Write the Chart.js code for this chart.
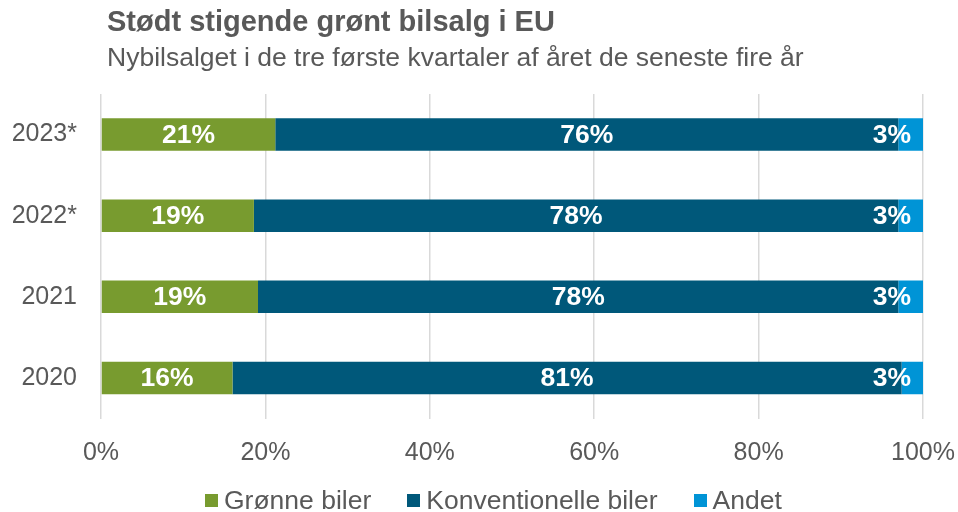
<!DOCTYPE html>
<html lang="da">
<head>
<meta charset="utf-8">
<title>Stødt stigende grønt bilsalg i EU</title>
<script src="https://cdn.jsdelivr.net/npm/chart.js@4.4.1/dist/chart.umd.min.js"></script>
<style>
  html, body { margin: 0; padding: 0; background: #fff; }
  body { font-family: "Liberation Sans", Arial, sans-serif; color: #595959; }
  .wrap { position: relative; width: 958px; height: 512px; overflow: hidden; }
  .wrap canvas { position: absolute; left: 0; top: 0; }
  .title { position: absolute; left: 107px; top: 7px; font-size: 29px; font-weight: bold; line-height: 1; white-space: nowrap; }
  .subtitle { position: absolute; left: 107px; top: 44px; font-size: 26.5px; line-height: 1; white-space: nowrap; }
  .legend { position: absolute; left: 205px; top: 487px; display: flex; align-items: center; font-size: 26.5px; line-height: 26px; white-space: nowrap; }
  .legend .item { display: flex; align-items: center; margin-right: 36px; }
  .legend .box { width: 13px; height: 13px; margin-right: 6px; }
</style>
</head>
<body>
<div class="wrap">
  <canvas id="chart" width="958" height="512"></canvas>
  <div class="title">Stødt stigende grønt bilsalg i EU</div>
  <div class="subtitle">Nybilsalget i de tre første kvartaler af året de seneste fire år</div>
  <div class="legend" id="legend"></div>
</div>
<script>
// ---- Data (andel af nybilsalget, %) ----
const categories = ['2023*', '2022*', '2021', '2020'];
const seriesNames = ['Grønne biler', 'Konventionelle biler', 'Andet'];
const groenne = [21.2, 18.6, 19.1, 16.0];
const konventionelle = [75.8, 78.4, 77.9, 81.4];
const andet = [3.0, 3.0, 3.0, 2.6];
const xTicks = [0, 20, 40, 60, 80, 100];

const colors = ['#789B2F', '#00587A', '#0094D6'];
const textGrey = '#595959';
const fontFamily = "'Liberation Sans', Arial, sans-serif";

// ---- White value labels inside the bar segments ----
const segmentLabels = {
  id: 'segmentLabels',
  afterDatasetsDraw(chart) {
    const ctx = chart.ctx;
    const area = chart.chartArea;
    ctx.save();
    ctx.font = 'bold 26.5px ' + fontFamily;
    ctx.fillStyle = '#fff';
    ctx.textAlign = 'center';
    ctx.textBaseline = 'middle';
    chart.data.datasets.forEach((ds, i) => {
      chart.getDatasetMeta(i).data.forEach((bar, j) => {
        const txt = Math.round(ds.data[j]) + '%';
        const w = ctx.measureText(txt).width;
        let cx = (bar.base + bar.x) / 2;
        // keep narrow segment labels inside the plot
        if (cx + w / 2 > area.right - 12) cx = area.right - 12 - w / 2;
        ctx.fillText(txt, cx, bar.y + 1);
      });
    });
    ctx.restore();
  }
};

const seriesData = [groenne, konventionelle, andet];

new Chart(document.getElementById('chart'), {
  type: 'bar',
  data: {
    labels: categories,
    datasets: seriesNames.map((name, i) => ({
      label: name,
      data: seriesData[i],
      backgroundColor: colors[i],
      borderWidth: 0,
      barPercentage: 0.4,
      categoryPercentage: 1
    }))
  },
  options: {
    indexAxis: 'y',
    responsive: false,
    animation: false,
    layout: { padding: { top: 94, right: 35, bottom: 0, left: 0 } },
    plugins: {
      legend: { display: false },
      title: { display: false },
      tooltip: { enabled: false }
    },
    scales: {
      x: {
        stacked: true,
        min: 0,
        max: 100,
        afterBuildTicks: (axis) => { axis.ticks = xTicks.map(v => ({ value: v })); },
        afterFit: (axis) => {
          axis.height = 93.5;
          axis.paddingLeft = 0;
          axis.paddingRight = 0;
        },
        grid: { color: '#D9D9D9', lineWidth: 1.5, drawTicks: false },
        border: { display: false },
        ticks: {
          padding: 20,
          color: textGrey,
          font: { family: fontFamily, size: 25 },
          callback: (v) => v + '%'
        }
      },
      y: {
        stacked: true,
        afterFit: (axis) => { axis.width = 101; },
        grid: { display: false, drawTicks: false },
        border: { display: false },
        ticks: {
          padding: 24,
          color: textGrey,
          font: { family: fontFamily, size: 25 }
        }
      }
    }
  },
  plugins: [segmentLabels]
});

// ---- Legend ----
const legendEl = document.getElementById('legend');
seriesNames.forEach((name, i) => {
  const item = document.createElement('div');
  item.className = 'item';
  const box = document.createElement('span');
  box.className = 'box';
  box.style.background = colors[i];
  const label = document.createElement('span');
  label.textContent = name;
  item.appendChild(box);
  item.appendChild(label);
  legendEl.appendChild(item);
});
</script>
</body>
</html>
